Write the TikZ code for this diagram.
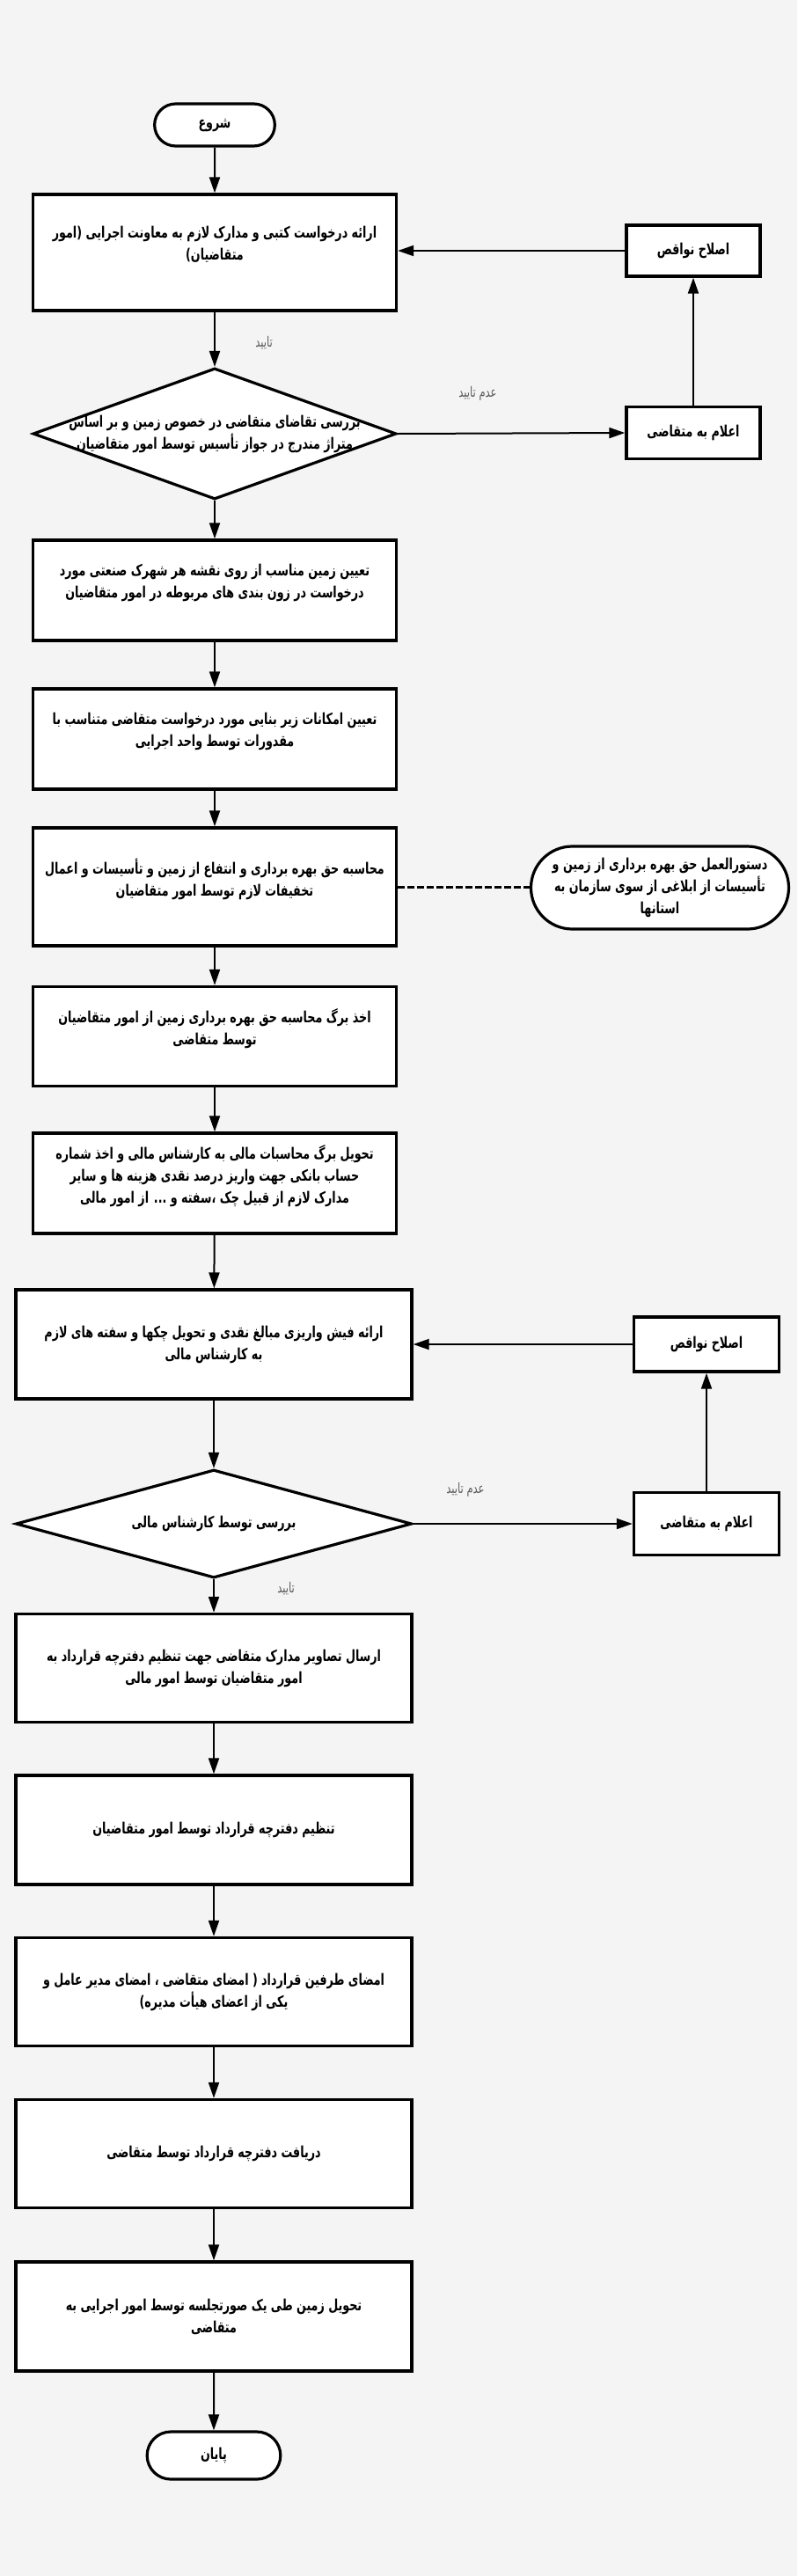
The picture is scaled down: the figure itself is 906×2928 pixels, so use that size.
\documentclass[tikz,border=0pt]{standalone}
\usepackage{fontspec}
\usepackage{xcolor}
\usepackage{tikz}
\usetikzlibrary{shapes.geometric, shapes.misc, arrows.meta, positioning, calc}
\TeXXeTstate=1
\newfontfamily\farsi[Script=Arabic, FakeStretch=0.72]{DejaVu Sans}
\newcommand{\rl}[1]{\beginR#1\endR}
\definecolor{pagebg}{HTML}{F4F4F4}
\definecolor{lblgray}{HTML}{5A5A5A}

\begin{document}
\begin{tikzpicture}[x=0.5pt, y=-0.5pt, >={Triangle[length=9pt, width=6pt]}, line width=1pt,
  every node/.style={font=\farsi\bfseries\fontsize{8.8}{12.5}\selectfont, align=center},
  stepbox/.style={draw, line width=1.7pt, fill=white, minimum width=206.5pt, inner xsep=1pt},
  widebox/.style={stepbox, minimum width=225pt},
  lift/.style={text depth=11pt},
  decision/.style={draw, diamond, line width=1.6pt, fill=white, inner sep=0pt},
  term/.style={draw, rounded rectangle, line width=1.6pt, fill=white},
  sidebox/.style={draw, line width=1.7pt, fill=white},
  lbl/.style={font=\farsi\fontsize{8}{9}\selectfont, text=lblgray}]
  \fill[pagebg] (0,0) rectangle (906,2928);
  \useasboundingbox (0,0) rectangle (906,2928);

  % main column, upper part
  \node[term, minimum width=75pt, minimum height=24pt] (start) at (244,142) {\rl{شروع}};
  \node[stepbox, lift, minimum height=66pt] (req) at (244,287)
    {\rl{ارائه درخواست کتبی و مدارک لازم به معاونت اجرایی (امور}\\\rl{متقاضیان)}};
  \node[decision, minimum width=206.5pt, minimum height=74.5pt] (chk1) at (244,493) {};
  \node at (chk1) {\rl{بررسی تقاضای متقاضی در خصوص زمین و بر اساس}\\\rl{متراژ مندرج در جواز تأسیس توسط امور متقاضیان}};
  \node[sidebox, minimum width=76pt, minimum height=29pt] (fix1) at (788,285) {\rl{اصلاح نواقص}};
  \node[sidebox, minimum width=76pt, minimum height=29.5pt] (inf1) at (788,492) {\rl{اعلام به متقاضی}};
  \node[stepbox, lift, minimum height=57pt] (land) at (244,671)
    {\rl{تعیین زمین مناسب از روی نقشه هر شهرک صنعتی مورد}\\\rl{درخواست در زون بندی های مربوطه در امور متقاضیان}};
  \node[stepbox, lift, minimum height=57pt] (infra) at (244,840)
    {\rl{تعیین امکانات زیر بنایی مورد درخواست متقاضی متناسب با}\\\rl{مقدورات توسط واحد اجرایی}};
  \node[stepbox, lift, minimum height=67pt] (calc) at (244,1008)
    {\rl{محاسبه  حق بهره برداری و انتفاع از زمین و تأسیسات و اعمال}\\\rl{تخفیفات لازم  توسط امور متقاضیان}};
  \node[term, minimum width=148.5pt, minimum height=47pt, inner xsep=1pt] (rule) at (750,1009)
    {\rl{دستورالعمل حق بهره برداری از زمین و}\\\rl{تأسیسات  از ابلاغی از سوی سازمان به}\\\rl{استانها}};
  \node[stepbox, lift, minimum height=56.5pt] (sheet) at (244,1178)
    {\rl{اخذ برگ محاسبه حق بهره برداری زمین از امور متقاضیان}\\\rl{توسط متقاضی}};
  \node[stepbox, lift, minimum height=57pt] (bank) at (244,1345)
    {\rl{تحویل برگ محاسبات مالی به کارشناس مالی و اخذ شماره}\\\rl{حساب بانکی جهت واریز درصد نقدی هزینه ها و سایر}\\\rl{مدارک لازم از قبیل چک ،سفته و ... از امور مالی}};

  % main column, lower part
  \node[widebox, minimum height=62pt] (pay) at (243,1528)
    {\rl{ارائه فیش واریزی مبالغ نقدی و تحویل چکها و سفته های لازم}\\\rl{به کارشناس مالی}};
  \node[decision, minimum width=225pt, minimum height=61.5pt] (chk2) at (243,1732) {};
  \node at (chk2) {\rl{بررسی توسط کارشناس مالی}};
  \node[sidebox, minimum width=82.5pt, minimum height=31pt] (fix2) at (803,1528) {\rl{اصلاح نواقص}};
  \node[sidebox, minimum width=82.5pt, minimum height=35.5pt] (inf2) at (803,1732) {\rl{اعلام به متقاضی}};
  \node[widebox, minimum height=61.5pt] (send) at (243,1896)
    {\rl{ارسال تصاویر مدارک متقاضی جهت تنظیم دفترچه قرارداد به}\\\rl{امور متقاضیان توسط امور مالی}};
  \node[widebox, minimum height=62pt] (draft) at (243,2080) {\rl{تنظیم دفترچه قرارداد توسط امور متقاضیان}};
  \node[widebox, minimum height=61.5pt] (sign) at (243,2264)
    {\rl{امضای طرفین قرارداد ( امضای متقاضی ، امضای مدیر عامل و}\\\rl{یکی از اعضای هیأت مدیره)}};
  \node[widebox, minimum height=61.5pt] (recv) at (243,2448) {\rl{دریافت دفترچه قرارداد توسط متقاضی}};
  \node[widebox, minimum height=62pt] (hand) at (243,2633)
    {\rl{تحویل زمین طی یک صورتجلسه توسط امور اجرایی به}\\\rl{متقاضی}};
  \node[term, minimum width=82.5pt, minimum height=27pt] (stop) at (243,2791) {\rl{پایان}};

  % labels
  \node[lbl] (ok1) at (300,390) {\rl{تایید}};
  \node[lbl] (no1) at (543,447) {\rl{عدم تایید}};
  \node[lbl] (no2) at (529,1693) {\rl{عدم تایید}};
  \node[lbl] (ok2) at (325,1806) {\rl{تایید}};

  % connectors
  \draw[->] (start) -- (req);
  \draw[->] (req) -- (chk1);
  \draw[->] (chk1.east) -- (inf1.west);
  \draw[->] (inf1) -- (fix1);
  \draw[->] (fix1.west) -- (fix1.west -| req.east);
  \draw[->] (chk1.south) -- (land);
  \draw[->] (land) -- (infra);
  \draw[->] (infra) -- (calc);
  \draw[line width=1.5pt, dash pattern=on 4pt off 1.5pt] (calc.east) -- (calc.east -| rule.west);
  \draw[->] (calc) -- (sheet);
  \draw[->] (sheet) -- (bank);
  \draw[->] (bank) -- (pay);
  \draw[->] (pay) -- (chk2);
  \draw[->] (chk2.east) -- (inf2.west);
  \draw[->] (inf2) -- (fix2);
  \draw[->] (fix2.west) -- (pay.east);
  \draw[->] (chk2.south) -- (send);
  \draw[->] (send) -- (draft);
  \draw[->] (draft) -- (sign);
  \draw[->] (sign) -- (recv);
  \draw[->] (recv) -- (hand);
  \draw[->] (hand) -- (stop);
\end{tikzpicture}
\end{document}
